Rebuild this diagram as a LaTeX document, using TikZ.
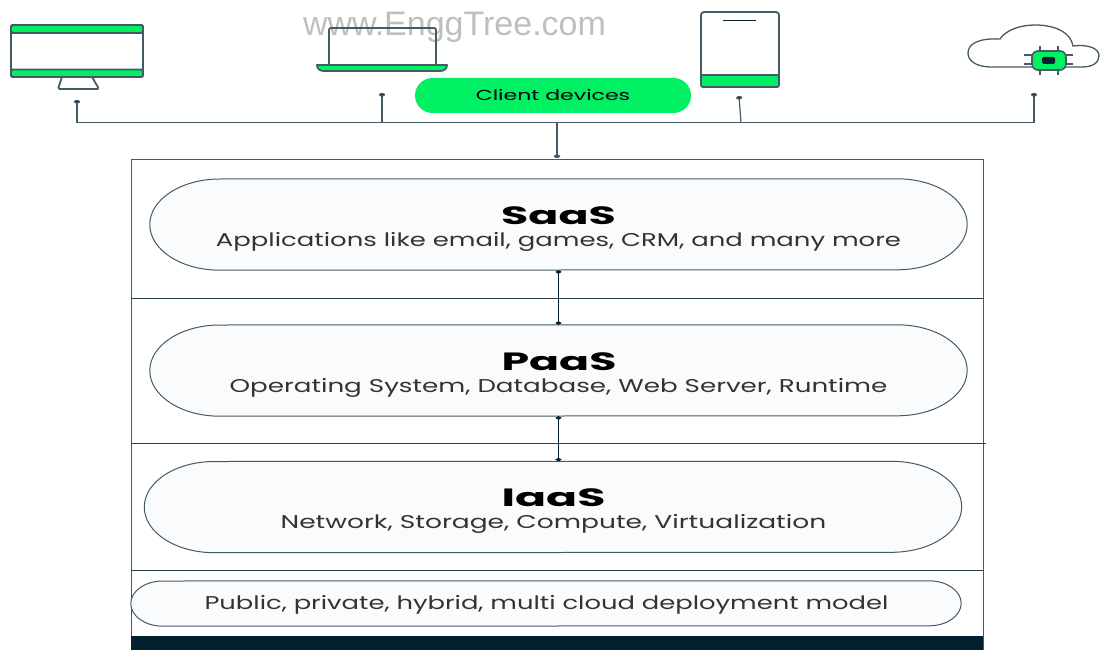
\documentclass[tikz,border=0pt]{standalone}
\usepackage{fontspec}
\setmainfont{Poppins}
\newfontfamily\markfont{Liberation Sans}
\usetikzlibrary{arrows.meta}
\definecolor{leaf}{HTML}{00EF63}
\definecolor{slate}{HTML}{465A66}
\definecolor{ink}{HTML}{03202E}
\definecolor{mist}{HTML}{F9FBFD}
\tikzset{
  layerpill/.style={inner sep=0pt, minimum width=817pt, minimum height=91pt},
  pilledge/.style={draw=slate, fill=mist, line width=1pt},
  layertitle/.style={anchor=base, inner sep=0pt, text=black, font=\fontsize{25}{26}\selectfont\bfseries},
  layertext/.style={anchor=base, inner sep=0pt, text=black!80, font=\fontsize{18.5}{24}\selectfont},
  wire/.style={draw=slate, line width=1pt},
  stub/.style={wire, line width=1.2pt, -{Circle[length=3.5pt,width=6pt,fill=ink]}},
  link/.style={draw=ink, line width=1.5pt, {Circle[length=3.5pt,width=5pt,fill=ink]}-{Circle[length=3.5pt,width=5pt,fill=ink]}},
  icon/.style={draw=slate, line width=1.8pt, line join=round},
  thin wire/.style={draw=slate, line width=1.3pt},
  rule/.style={draw=ink!85, line width=0.8pt},
}
\newcommand{\wide}[2]{\scalebox{#1}[1]{#2}}
\begin{document}
\begin{tikzpicture}[x=1pt,y=-1pt]
  \useasboundingbox (0,0) rectangle (1100,650);
  \fill[white] (0,0) rectangle (1100,650);
  \node[text=black!25, font=\markfont\fontsize{34}{34}\selectfont] (mark) at (454.5,27.5) {www.EnggTree.com};

  \draw[icon, rounded corners=1.5pt] (11,25) rectangle (143,77);
  \draw[icon, fill=leaf, rounded corners=1.5pt] (11,25) rectangle (143,33);
  \draw[icon, fill=leaf, rounded corners=1.5pt] (11,69.5) rectangle (143,77);
  \draw[icon, rounded corners=1.5pt] (62,77) -- (58,89) -- (99,89) -- (92,77);

  \draw[icon, rounded corners=2pt] (329,64) -- (329,28) -- (436,28) -- (436,64);
  \draw[icon, fill=leaf] (317,65) -- (447,65) .. controls (447,69) and (444,71) .. (440,71) -- (324,71) .. controls (320,71) and (317,69) .. (317,65) -- cycle;

  \draw[icon, rounded corners=3pt] (701,12) rectangle (779,87);
  \draw[icon, fill=leaf, rounded corners=2pt] (701,75) rectangle (779,87);
  \draw[draw=ink, line width=1pt] (723,21) -- (756,21);

  \draw[thin wire] (992,67) .. controls (976,67) and (968,61) .. (968,53) .. controls (968,44) and (978,38) .. (1000,39) .. controls (1006,30) and (1020,25) .. (1035,25) .. controls (1056,25) and (1071,33) .. (1073,46) .. controls (1090,44) and (1099,49) .. (1099,56) .. controls (1099,63) and (1092,67) .. (1082,67) -- cycle;
  \foreach \px in {1040,1058} \draw[thin wire] (\px,46) -- (\px,75);
  \foreach \py in {55,64} \draw[thin wire] (1024,\py) -- (1073,\py);
  \draw[draw=slate, line width=1.6pt, fill=leaf, rounded corners=6pt] (1032,51) rectangle (1066,70);
  \fill[ink, rounded corners=1.5pt] (1042,57) rectangle (1055,64);

  \node[fill=leaf, rounded corners=17.5pt, minimum width=276pt, minimum height=35pt, inner sep=0pt] (client) at (553,95.5) {};
  \node[anchor=base, inner sep=0pt, text=black, font=\fontsize{14.5}{18}\selectfont] (clientlabel) at (553,101) {\wide{1.52}{Client devices}};

  \coordinate (busleft) at (77,123);
  \coordinate (busright) at (1034,123);
  \coordinate (buslaptop) at (382,123);
  \coordinate (bustablet) at (741,123);
  \coordinate (buscentre) at (557,123);
  \coordinate (monitorend) at (77,100);
  \coordinate (laptopend) at (382,93);
  \coordinate (tabletend) at (739,96);
  \coordinate (cloudend) at (1034,93);
  \coordinate (stackend) at (557,158);

  \draw[draw=slate, line width=1pt] (131,650) -- (131,159) -- (983,159) -- (983,650);
  \draw[rule] (131,298) -- (983,298);
  \draw[rule] (131,443) -- (986,443);
  \draw[rule] (131,570) -- (983,570);
  \fill[ink] (131,636) rectangle (983,650);

  \node[layerpill] (saas) at (558.5,224.5) {};
  \node[layerpill] (paas) at (558.5,370.5) {};
  \node[layerpill] (iaas) at (553,507) {};
  \node[layerpill, minimum width=830pt, minimum height=45pt] (deploy) at (546,603.5) {};
  \foreach \pillname/\rx/\ry in {saas/70/45.5, paas/70/45.5, iaas/70/45.5, deploy/32/22.5}
    \draw[pilledge] (\pillname.west) arc[start angle=180, end angle=270, x radius=\rx, y radius=\ry] -- ([xshift=-\rx pt]\pillname.north east) arc[start angle=270, end angle=360, x radius=\rx, y radius=\ry] arc[start angle=0, end angle=90, x radius=\rx, y radius=\ry] -- ([xshift=\rx pt]\pillname.south west) arc[start angle=90, end angle=180, x radius=\rx, y radius=\ry] -- cycle;

  \node[layertitle] (saastitle) at (558.5,224) {\wide{1.77}{SaaS}};
  \node[layertext] (saastext) at (558.5,246) {\wide{1.4}{Applications like email, games, CRM, and many more}};
  \node[layertitle] (paastitle) at (559,370) {\wide{1.77}{PaaS}};
  \node[layertext] (paastext) at (558.5,392) {\wide{1.414}{Operating System, Database, Web Server, Runtime}};
  \node[layertitle] (iaastitle) at (553.5,506.5) {\wide{1.83}{IaaS}};
  \node[layertext] (iaastext) at (553.5,528.5) {\wide{1.432}{Network, Storage, Compute, Virtualization}};
  \node[layertext] (deploytext) at (546.5,609) {\wide{1.395}{Public, private, hybrid, multi cloud deployment model}};

  \draw[wire] (busleft) -- (busright);
  \draw[stub] (busleft) -- (monitorend);
  \draw[stub] (buslaptop) -- (laptopend);
  \draw[stub] (bustablet) -- (tabletend);
  \draw[stub] (busright) -- (cloudend);
  \draw[stub, line width=1.5pt] (buscentre) -- (stackend);
  \draw[link] (saas.south) -- (paas.north);
  \draw[link] (paas.south) -- (paas.south |- iaas.north);
\end{tikzpicture}
\end{document}
